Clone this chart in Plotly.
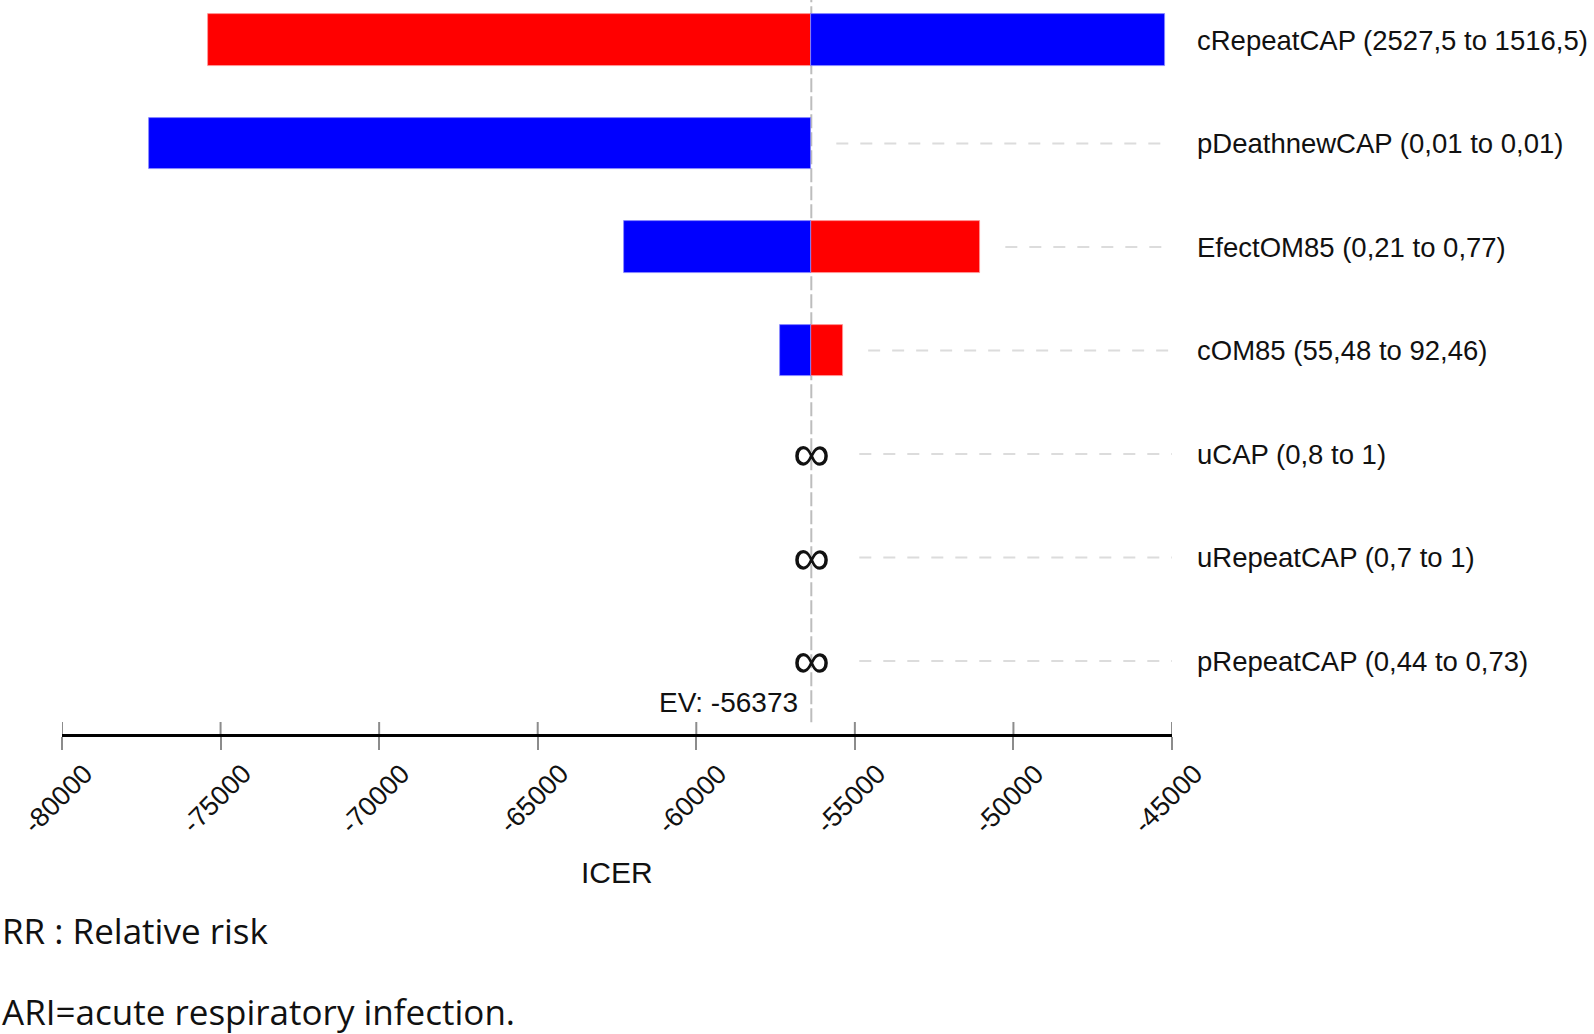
import plotly.graph_objects as go

# ---------------- data ----------------
params = ["cRepeatCAP", "pDeathnewCAP", "EfectOM85", "cOM85", "uCAP", "uRepeatCAP", "pRepeatCAP"]
ranges = ["(2527,5 to 1516,5)", "(0,01 to 0,01)", "(0,21 to 0,77)", "(55,48 to 92,46)",
          "(0,8 to 1)", "(0,7 to 1)", "(0,44 to 0,73)"]
red_vals = [-75388, None, -51044, -55369, None, None, None]
blue_vals = [-45215, -77256, -62287, -57366, None, None, None]
infinite = [False, False, False, False, True, True, True]
ev = -56373
tick_vals = [-80000, -75000, -70000, -65000, -60000, -55000, -50000, -45000]
tick_text = ["-80000", "-75000", "-70000", "-65000", "-60000", "-55000", "-50000", "-45000"]
x_title = "ICER"
footnotes = ["RR : Relative risk", "ARI=acute respiratory infection."]

labels = [f"{p} {r}" for p, r in zip(params, ranges)]

# ---------------- layout constants ----------------
W, H = 1594, 1034
ML, MR, MT, MB = 62, 422, 0, 300
plot_w = W - ML - MR
plot_h = H - MT - MB
xr = [tick_vals[0], tick_vals[-1]]
u_per_px = (xr[1] - xr[0]) / plot_w
yr = [6.705, -0.3865]

FONT = "Liberation Sans, Arial, sans-serif"
TXT = "#111111"

def py(px):
    """pixel row (from top of figure) -> paper y"""
    return (plot_h - px) / plot_h

fig = go.Figure()

def deltas(vals):
    return [None if v is None else v - ev for v in vals]

fig.add_trace(go.Bar(y=labels, x=deltas(red_vals), base=ev, orientation="h",
                     marker=dict(color="#ff0000", line=dict(color="#ff9a9a", width=0.8)),
                     width=0.5, showlegend=False, hoverinfo="skip"))
fig.add_trace(go.Bar(y=labels, x=deltas(blue_vals), base=ev, orientation="h",
                     marker=dict(color="#0000ff", line=dict(color="#8a8aff", width=0.8)),
                     width=0.5, showlegend=False, hoverinfo="skip"))

shapes = []
# EV line
shapes.append(dict(type="line", xref="x", yref="y domain", x0=ev, x1=ev, y0=0.016, y1=1,
                   line=dict(color="#bdbdbd", width=2, dash="14px,4px"), layer="below"))
# dashed guide lines
for lab, r, b, inf in zip(labels, red_vals, blue_vals, infinite):
    ends = [v for v in (r, b) if v is not None]
    right = max(ends + [ev])
    gap = (48 if inf else 25) * u_per_px
    start = right + gap
    if start < xr[1]:
        shapes.append(dict(type="line", xref="x", yref="y", x0=start, x1=xr[1], y0=lab, y1=lab,
                           line=dict(color="#dcdcdc", width=2, dash="12px,12px"), layer="below"))
# upper halves of the crossing ticks
for tv in tick_vals:
    shapes.append(dict(type="line", xref="x", yref="y domain", x0=tv, x1=tv, y0=0, y1=12 / plot_h,
                       line=dict(color="#8c8c8c", width=2)))

annotations = [
    dict(text=f"EV: {ev}", xref="x", yref="paper", x=ev, y=py(702),
         xanchor="right", yanchor="middle", xshift=-11, showarrow=False,
         font=dict(family=FONT, size=28, color=TXT)),
    dict(text=x_title, xref="paper", yref="paper", x=0.5, y=py(872),
         xanchor="center", yanchor="middle", showarrow=False,
         font=dict(family=FONT, size=30, color=TXT)),
]
# infinity markers for unbounded results
for lab, inf in zip(labels, infinite):
    if inf:
        annotations.append(dict(text="∞", xref="x", yref="y", x=ev, y=lab,
                                xanchor="center", yanchor="middle", yshift=1, showarrow=False,
                                font=dict(family=FONT, size=52, color=TXT)))
# rotated tick labels, centred under each tick
for tv, tt in zip(tick_vals, tick_text):
    annotations.append(dict(text=tt, xref="x", yref="paper", x=tv, y=py(799),
                            xanchor="center", yanchor="middle", xshift=-4, textangle=-45,
                            showarrow=False, font=dict(family=FONT, size=27, color=TXT)))
for t, ypx in zip(footnotes, [930, 1011]):
    annotations.append(dict(text=t, xref="paper", yref="paper", x=(0 - ML) / plot_w,
                            y=py(ypx), xanchor="left", yanchor="middle",
                            showarrow=False,
                            font=dict(family="Open Sans, sans-serif", size=35, color=TXT)))

fig.update_layout(
    width=W, height=H, margin=dict(l=ML, r=MR, t=MT, b=MB),
    paper_bgcolor="white", plot_bgcolor="white",
    barmode="overlay", bargap=0,
    shapes=shapes, annotations=annotations,
    xaxis=dict(range=xr, tickvals=tick_vals, showticklabels=False,
               showgrid=False, zeroline=False, showline=True, linecolor="#000000", linewidth=3,
               ticks="outside", ticklen=13, tickwidth=2, tickcolor="#8c8c8c"),
    yaxis=dict(type="category", categoryarray=labels, range=yr, side="right",
               showgrid=False, zeroline=False, showline=False, ticks="",
               ticklabelstandoff=24,
               tickfont=dict(family=FONT, size=27.5, color=TXT)),
)

fig.write_html("out.html", config={"displayModeBar": False},
               post_script="document.body.style.margin='0';document.body.style.overflow='hidden';")
